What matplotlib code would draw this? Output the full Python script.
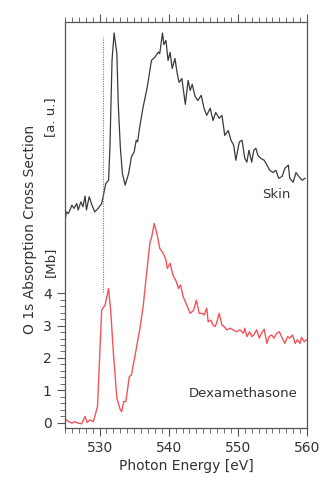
import numpy as np
import matplotlib
matplotlib.use("Agg")
import matplotlib.pyplot as plt
from matplotlib.ticker import MultipleLocator, FixedLocator

# Skin spectrum (arbitrary units, offset above the Dexamethasone curve)
skin_energy = [525.0, 525.2, 525.5, 526.0, 526.3, 526.7, 526.9, 527.3, 527.6, 527.9,
               528.1, 528.5, 528.9, 529.3, 529.8, 530.3, 530.6, 530.9, 531.3, 531.5,
               531.8, 532.1, 532.5, 532.7, 533.0, 533.3, 533.7, 534.2, 534.6, 535.0,
               535.3, 535.5, 535.8, 536.3, 536.9, 537.5, 538.0, 538.5, 538.7, 539.1,
               539.3, 539.6, 539.9, 540.2, 540.5, 540.9,
               541.2, 541.5, 541.9, 542.4, 542.8, 543.1, 543.4, 543.8, 544.2, 544.7,
               545.1, 545.5, 546.0, 546.4, 546.8, 547.3, 547.7, 548.1, 548.6, 549.0,
               549.4, 549.7, 550.2, 550.6, 551.0, 551.3, 551.6, 552.0, 552.3, 552.6,
               552.9, 553.3, 553.8, 554.2, 554.6, 555.1, 555.5, 555.9, 556.4, 556.8,
               557.3, 557.5, 558.0, 558.4, 558.8, 559.3, 559.7]
skin_signal = [6.21, 6.52, 6.47, 6.73, 6.63, 6.78, 6.58, 6.83, 6.68, 7.01,
               6.58, 6.99, 6.73, 6.52, 6.63, 6.78, 7.09, 7.40, 7.50, 8.53,
               11.21, 12.06, 11.42, 9.87, 8.53, 7.71, 7.35, 7.71, 8.22, 8.38,
               8.74, 8.69, 9.15, 9.77, 10.39, 11.21, 11.31, 11.47, 11.42, 12.06,
               11.70, 11.83, 11.21, 11.46, 10.96, 11.27,
               10.84, 10.53, 10.65, 9.85, 10.59, 10.28, 10.47, 10.10, 9.97, 10.13,
               9.73, 9.51, 9.73, 9.35, 9.60, 9.42, 9.51, 8.89, 9.04, 8.74,
               8.58, 8.12, 8.68, 8.74, 8.18, 8.06, 8.43, 8.06, 8.43, 8.49,
               8.27, 8.18, 8.12, 7.97, 7.81, 7.74, 7.81, 7.56, 7.62, 7.87,
               7.97, 7.56, 7.44, 7.74, 7.62, 7.50, 7.56]

# Dexamethasone cross section [Mb]
dex_energy = [525.0, 525.5, 526.0, 526.4, 526.9, 527.4, 527.9, 528.2, 528.6, 529.1,
              529.7, 530.3, 530.8, 531.3, 531.6, 532.0, 532.5, 533.0, 533.2, 533.5,
              533.8, 534.3, 534.6, 535.1, 535.8, 536.3, 536.8, 537.3, 537.5, 537.9,
              538.3, 538.7, 539.2, 539.6, 539.8, 540.2, 540.6, 541.1, 541.4, 541.7,
              542.1, 542.6, 543.1, 543.6, 544.0, 544.4,
              544.8, 545.1, 545.5, 545.7, 546.1, 546.4, 546.7, 546.9,
              547.3, 547.7, 548.0, 548.4, 548.9, 549.3, 549.8, 550.3, 550.8, 551.0,
              551.3, 551.7, 552.0, 552.3, 552.7, 553.1, 553.4, 553.8, 554.2, 554.5,
              554.9, 555.2, 555.6, 556.0, 556.3, 556.8, 557.2, 557.5, 557.9, 558.3,
              558.6, 559.0, 559.2, 559.6, 559.9]
dex_signal = [0.11, 0.03, -0.02, 0.03, -0.02, -0.04, 0.19, 0.00, 0.08, 0.03,
              0.49, 3.48, 3.64, 4.15, 3.48, 2.15, 0.75, 0.39, 0.34, 0.65,
              0.65, 1.42, 1.47, 2.04, 2.87, 3.59, 4.62, 5.60, 5.70, 6.16,
              5.85, 5.39, 5.24, 5.03, 4.77, 4.93, 4.57, 4.36, 4.15, 4.26,
              3.89, 3.64, 3.38, 3.48, 3.79, 3.38,
              3.38, 3.33, 3.54, 3.12, 3.17, 3.02, 2.97, 3.07,
              3.38, 3.02, 2.97, 2.87, 2.92, 2.87, 2.81, 2.87, 2.76, 2.92,
              2.66, 2.81, 2.66, 2.71, 2.87, 2.61, 2.76, 2.89, 2.45, 2.66,
              2.71, 2.61, 2.76, 2.81, 2.66, 2.45, 2.66, 2.61, 2.71, 2.45,
              2.56, 2.45, 2.64, 2.50, 2.56]

edge_energy = 530.5
edge_span = [4.05, 11.95]
mb_ticks = [0, 1, 2, 3, 4]

text_color = "#333333"
fig = plt.figure(figsize=(3.21, 4.78), dpi=100)
ax = fig.add_axes([0.2025, 0.1046, 0.754, 0.8494])

ax.plot(skin_energy, skin_signal, color="#3a3a3a", linewidth=0.9)
ax.plot(dex_energy, dex_signal, color="#f2545b", linewidth=1.0)
ax.plot([edge_energy, edge_energy], edge_span, color="#777777", linewidth=0.8, linestyle=(0, (1, 1.2)))

ax.set_xlim(525, 560)
ax.set_ylim(-0.17, 12.4)

ax.xaxis.set_major_locator(MultipleLocator(10))
ax.xaxis.set_minor_locator(MultipleLocator(1))
ax.yaxis.set_major_locator(FixedLocator(mb_ticks))
ax.yaxis.set_minor_locator(FixedLocator(np.arange(0, 4.01, 0.2)))
ax.tick_params(axis="x", which="both", direction="out", top=True, bottom=True,
               labeltop=False, colors="#555555", labelcolor=text_color, labelsize=10)
ax.tick_params(axis="x", which="major", length=6, width=0.8)
ax.tick_params(axis="x", which="minor", length=3.5, width=0.6)
ax.tick_params(axis="y", which="both", direction="out", left=True, right=False,
               colors="#555555", labelcolor=text_color, labelsize=10)
ax.tick_params(axis="y", which="major", length=6, width=0.8)
ax.tick_params(axis="y", which="minor", length=3.5, width=0.6)
for s in ax.spines.values():
    s.set_color("#555555")
    s.set_linewidth(0.9)

ax.set_xlabel("Photon Energy [eV]", fontsize=10, color=text_color, labelpad=3)
fig.text(0.093, 0.52, "O 1s Absorption Cross Section", rotation=90, fontsize=10,
         color=text_color, ha="center", va="center")
fig.text(0.156, 0.755, "[a. u.]", rotation=90, fontsize=9.5, color=text_color,
         ha="center", va="center")
fig.text(0.156, 0.452, "[Mb]", rotation=90, fontsize=9.5, color=text_color,
         ha="center", va="center")

ax.text(555.5, 7.05, "Skin", fontsize=9.5, color=text_color, ha="center", va="center")
ax.text(550.8, 0.9, "Dexamethasone", fontsize=9.5, color=text_color, ha="center", va="center")

fig.savefig("out.png", dpi=100)
